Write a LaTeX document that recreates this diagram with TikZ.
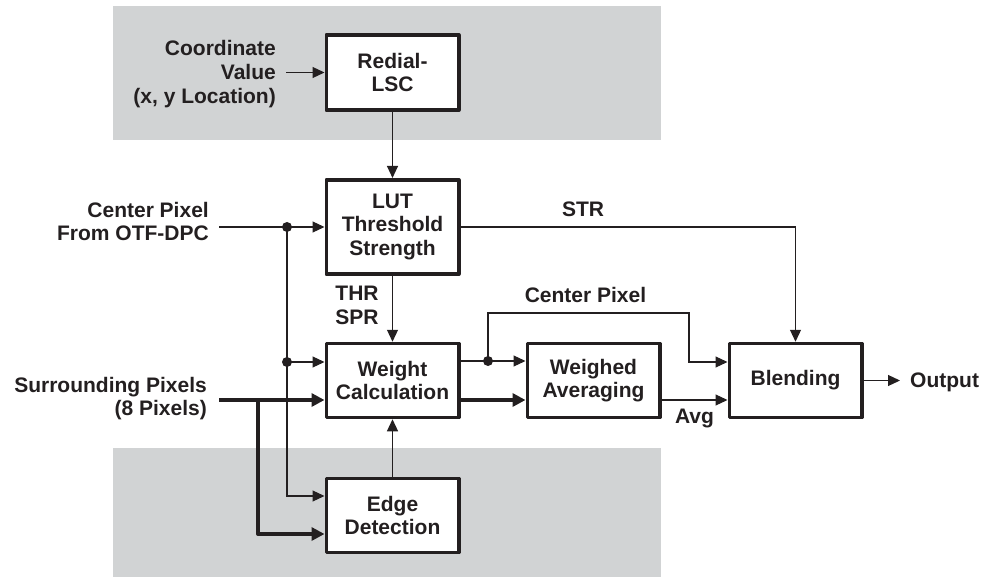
\documentclass[tikz,border=0pt]{standalone}
\usepackage{fontspec}
\setmainfont{Liberation Sans}
\usetikzlibrary{arrows.meta}
\definecolor{ink}{HTML}{231F20}
\definecolor{bggray}{HTML}{D1D3D4}
\begin{document}
\begin{tikzpicture}[x=1pt,y=-1pt,
  every node/.style={text=ink, inner sep=0pt, font=\fontsize{21}{23.5}\selectfont\bfseries},
  blk/.style={draw=ink, line width=3.6pt, fill=white, minimum width=132.4pt, minimum height=73.9pt, align=center, line join=round},
  wire/.style={draw=ink, line width=1.2pt},
  bus/.style={draw=ink, line width=4pt, line join=round},
  arr/.style={-{Triangle[length=12pt,width=11pt]}},
  barr/.style={-{Triangle[length=13pt,width=13pt]}},
  jdot/.style={circle, fill=ink, inner sep=0pt, minimum size=10pt}
]
\useasboundingbox (0,0) rectangle (982,577);
% shaded regions
\fill[bggray] (113,6) rectangle (661,140);
\fill[bggray] (113,448) rectangle (661,577);

% blocks
\node[blk, minimum height=75.5pt] (rlsc) at (392.5,72.5) {Redial-\\LSC};
\node[blk, minimum height=94.5pt] (lut) at (392.5,227) {LUT\\Threshold\\Strength};
\node[blk] (wc) at (392.5,380.5) {Weight\\Calculation};
\node[blk] (ed) at (392.5,515.5) {Edge\\Detection};
\node[blk] (wa) at (593.5,380.5) {Weighed\\Averaging};
\node[blk] (bl) at (795.5,380.5) {Blending};

% labels
\node[anchor=east, align=right, font=\fontsize{21}{24}\selectfont\bfseries] (coordl) at (276,73.6) {Coordinate\\Value\\(x, y Location)};
\node[anchor=east, align=right, font=\fontsize{21}{22.5}\selectfont\bfseries] (cpl) at (209,221.4) {Center Pixel\\From OTF-DPC};
\node[anchor=east, align=right, font=\fontsize{21}{22.5}\selectfont\bfseries] (spl) at (207,398.7) {Surrounding Pixels\\(8 Pixels)};
\node (strl) at (583,209) {STR};
\node[align=center] (thr) at (357,305.5) {THR\\SPR};
\node (cpl2) at (585.5,294.5) {Center Pixel};
\node (avgl) at (694.5,418) {Avg};
\node[anchor=west] (outl) at (910,382.7) {Output};

% coordinates
\coordinate (cin) at (286,72.5);
\coordinate (cpin) at (219,227);
\coordinate (j1) at (287,227);
\coordinate (j2) at (287,362);
\coordinate (j3) at (287,496);
\coordinate (spin) at (219,400);
\coordinate (sb) at (258,400);
\coordinate (sb2) at (258,534);
\coordinate (j4) at (488,361);
\coordinate (cpt) at (689,313);
\coordinate (yc) at (0,362);
\coordinate (ya) at (0,400);
\coordinate (outc) at (900,380.5);

% connectors
\draw[wire, arr] (cin) -- (rlsc.west);
\draw[wire, arr] (rlsc.south) -- (lut.north);
\draw[wire, arr] (cpin) -- (lut.west);
\draw[wire, arr] (j1) |- (ed.west |- j3);
\draw[wire, arr] (j2) -- (wc.west |- j2);
\draw[wire, arr] (lut.south) -- (wc.north);
\draw[wire, arr] (lut.east) -| (bl.north);
\draw[bus, barr] (spin) -- (wc.west |- spin);
\draw[bus, barr] (sb) |- (ed.west |- sb2);
\draw[wire, arr] (ed.north) -- (wc.south);
\draw[wire, arr] (wc.east |- j4) -- (wa.west |- j4);
\draw[wire, arr] (j4) |- (cpt) |- (bl.west |- yc);
\draw[bus, barr] (wc.east |- ya) -- (wa.west |- ya);
\draw[wire, arr] (wa.east |- ya) -- (bl.west |- ya);
\draw[wire, arr] (bl.east) -- (outc);

% junction dots
\node[jdot] (d1) at (j1) {};
\node[jdot] (d2) at (j2) {};
\node[jdot] (d4) at (j4) {};
\end{tikzpicture}
\end{document}
